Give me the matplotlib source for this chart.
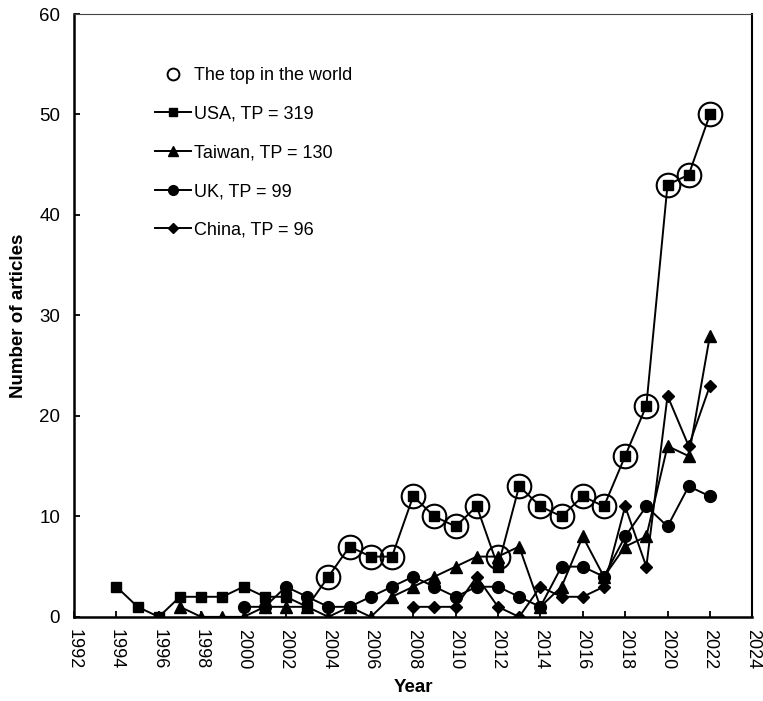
import matplotlib
matplotlib.use("Agg")
import matplotlib.pyplot as plt
from matplotlib.lines import Line2D

plt.rcParams['font.family'] = ['Liberation Sans', 'DejaVu Sans']

# data
usa_years = list(range(1994, 2023))
usa = [3, 1, 0, 2, 2, 2, 3, 2, 2, 1, 4, 7, 6, 6, 12, 10, 9, 11, 5, 13, 11, 10, 12, 11, 16, 21, 43, 44, 50]

taiwan_years = list(range(1997, 2023))
taiwan = [1, 0, 0, 0, 1, 1, 1, 0, 1, 0, 2, 3, 4, 5, 6, 6, 7, 1, 3, 8, 4, 7, 8, 17, 16, 28]

uk_years = list(range(2000, 2023))
uk = [1, 1, 3, 2, 1, 1, 2, 3, 4, 3, 2, 3, 3, 2, 1, 5, 5, 4, 8, 11, 9, 13, 12]

china_years = list(range(2008, 2023))
china = [1, 1, 1, 4, 1, 0, 3, 2, 2, 3, 11, 5, 22, 17, 23]

top_years = list(range(2004, 2023))
top = [4, 7, 6, 6, 12, 10, 9, 11, 6, 13, 11, 10, 12, 11, 16, 21, 43, 44, 50]

labels = ['The top in the world', 'USA, TP = 319', 'Taiwan, TP = 130',
          'UK, TP = 99', 'China, TP = 96']

fig = plt.figure(figsize=(7.63, 7.01), dpi=100)
ax = fig.add_axes([0.097, 0.12, 0.889, 0.86])

lw = 1.4
ax.plot(usa_years, usa, color='black', lw=lw, marker='s', ms=7)
ax.plot(taiwan_years, taiwan, color='black', lw=lw, marker='^', ms=8)
ax.plot(uk_years, uk, color='black', lw=lw, marker='o', ms=8.5)
ax.plot(china_years, china, color='black', lw=lw, marker='D', ms=6.5)
ax.plot(top_years, top, linestyle='none', marker='o', ms=17,
        mfc='none', mec='black', mew=1.5)

ax.set_xlim(1992, 2024)
ax.set_ylim(0, 60)
ax.set_xticks(range(1992, 2025, 2))
ax.set_yticks(range(0, 61, 10))
ax.tick_params(axis='x', direction='in', length=4, width=1.3, labelsize=13,
               labelrotation=-90, pad=9)
ax.tick_params(axis='y', direction='in', length=4, width=1.3, labelsize=13.5, pad=10)

ax.spines['left'].set_linewidth(1.8)
ax.spines['bottom'].set_linewidth(1.8)
ax.spines['right'].set_linewidth(1.5)
ax.spines['top'].set_linewidth(0.8)
ax.spines['top'].set_color('#444444')

ax.set_xlabel('Year', fontsize=13.5, fontweight='bold', labelpad=7)
ax.set_ylabel('Number of articles', fontsize=13.5, fontweight='bold', labelpad=9)

handles = [
    Line2D([], [], linestyle='none', marker='o', ms=8.5, mfc='none', mec='black', mew=1.4),
    Line2D([], [], color='black', lw=lw, marker='s', ms=6),
    Line2D([], [], color='black', lw=lw, marker='^', ms=7),
    Line2D([], [], color='black', lw=lw, marker='o', ms=7),
    Line2D([], [], color='black', lw=lw, marker='D', ms=5.5),
]
ax.legend(handles, labels, loc='upper left', bbox_to_anchor=(0.119, 0.912),
          frameon=False, fontsize=13, borderpad=0, borderaxespad=0,
          labelspacing=1.2, handlelength=2.0, handletextpad=0.2)

fig.savefig('out.png', dpi=100)
